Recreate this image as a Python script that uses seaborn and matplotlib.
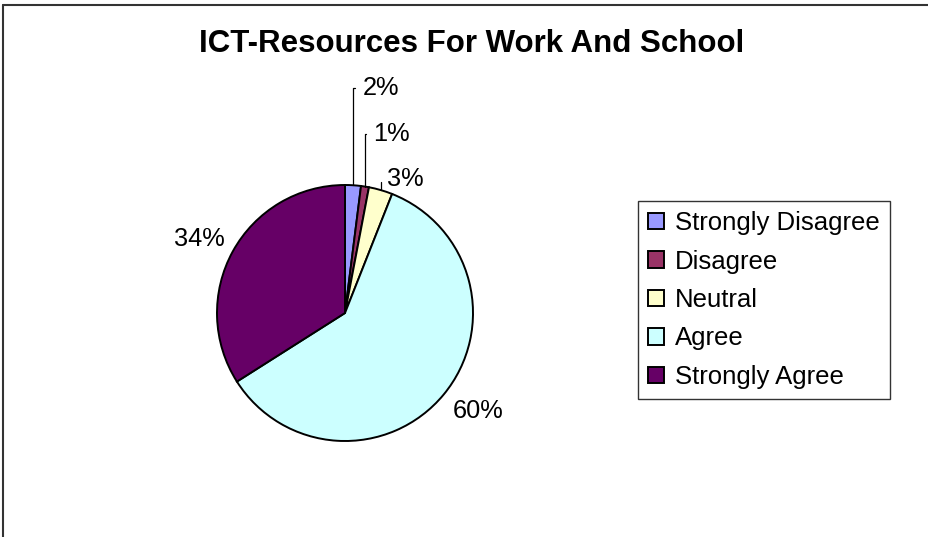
import numpy as np
import matplotlib
matplotlib.use('Agg')
import matplotlib.pyplot as plt
from matplotlib.lines import Line2D
import seaborn as sns

categories = ['Strongly Disagree', 'Disagree', 'Neutral', 'Agree', 'Strongly Agree']
values = [2, 1, 3, 60, 34]
pct_labels = ['2%', '1%', '3%', '60%', '34%']
colors = ['#9999FF', '#993366', '#FFFFCC', '#CCFFFF', '#660066']

sns.set_theme(style='white')
plt.rcParams['font.family'] = ['Liberation Sans', 'DejaVu Sans']
plt.rcParams['text.color'] = 'black'

W, H = 929, 537
fig = plt.figure(figsize=(W / 100, H / 100), dpi=100)

# pie axes: centre (345, 313) px, radius 128 px
cx, cy, r = 345, 313, 128
ax = fig.add_axes([(cx - r) / W, (H - cy - r) / H, 2 * r / W, 2 * r / H])
wedges, _ = ax.pie(values, colors=sns.color_palette(colors), startangle=90,
                   counterclock=False, radius=1,
                   wedgeprops=dict(edgecolor='black', linewidth=1.4))
ax.set_xlim(-1, 1)
ax.set_ylim(-1, 1)
ax.set_aspect('equal')
ax.axis('off')

# small slices: elbow leader lines up to the labels
small_text = {0: (0.14, 1.76), 1: (0.22, 1.40), 2: (0.33, 1.045)}
# big slices: label corner placed just outside the rim (distance, ha, va, nudge)
big_anchor = {3: (1.06, 'left', 'top', (0.025, 0.0)),
              4: (1.07, 'right', 'bottom', (0.0, -0.035))}

for i, w in enumerate(wedges):
    mid = np.deg2rad((w.theta1 + w.theta2) / 2)
    px, py = np.cos(mid), np.sin(mid)
    if i in small_text:
        tx, ty = small_text[i]
        ax.annotate(pct_labels[i], xy=(px, py), xytext=(tx, ty),
                    ha='left', va='center', fontsize=18.3, color='black',
                    annotation_clip=False,
                    arrowprops=dict(arrowstyle='-', color='black', lw=0.9,
                                    shrinkA=3, shrinkB=0, relpos=(0, 0.5),
                                    connectionstyle='angle,angleA=0,angleB=90,rad=0'))
    else:
        d, ha, va, (nx, ny) = big_anchor[i]
        ax.text(d * px + nx, d * py + ny, pct_labels[i], ha=ha, va=va,
                fontsize=18.3, color='black')

fig.text(472 / W, 1 - 52 / H, 'ICT-Resources For Work And School',
         ha='center', va='baseline', fontsize=22.5, fontweight='bold',
         color='black')

leg = fig.legend(wedges, categories, loc='upper left',
                 bbox_to_anchor=(638 / W, 1 - 201 / H), borderaxespad=0,
                 fontsize=18.5, frameon=True, fancybox=False, edgecolor='black',
                 handlelength=0.6, handleheight=0.6, handletextpad=0.45,
                 labelspacing=0.56, borderpad=0.4)
leg.get_frame().set_linewidth(1.0)

# outer chart frame (only left and top edges fall inside the picture)
fig.add_artist(Line2D([3 / W, 3 / W], [0, 1 - 5 / H], transform=fig.transFigure,
                      color='#333333', lw=1.5))
fig.add_artist(Line2D([3 / W, 1], [1 - 5 / H, 1 - 5 / H], transform=fig.transFigure,
                      color='#333333', lw=1.5))

fig.savefig('out.png', dpi=100, facecolor='white')
